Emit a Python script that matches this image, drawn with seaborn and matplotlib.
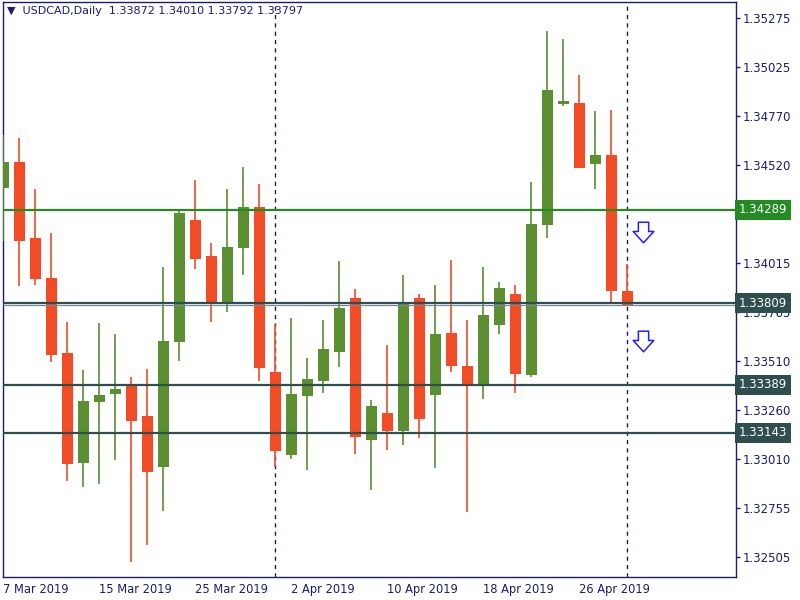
import numpy as np
import pandas as pd
import matplotlib
matplotlib.use("Agg")
import matplotlib.pyplot as plt
import matplotlib.transforms as mtransforms
from matplotlib.path import Path
import seaborn as sns

# daily bars, 7 Mar 2019 .. 1 May 2019
dates = pd.bdate_range("2019-03-07", "2019-05-01")
opens = [1.34402, 1.34534, 1.34144, 1.33938, 1.33552, 1.32989, 1.33302, 1.33342, 1.33388, 1.33229,
         1.32968, 1.33611, 1.34236, 1.34051, 1.33816, 1.34094, 1.34303, 1.33455, 1.33030, 1.33333,
         1.33410, 1.33559, 1.33835, 1.33107, 1.33244, 1.33153, 1.33835, 1.33338, 1.33655, 1.33486,
         1.33395, 1.33696, 1.33856, 1.33441, 1.34212, 1.34834, 1.34837, 1.34525, 1.34570, 1.33872]
highs = [1.34673, 1.34658, 1.34395, 1.34169, 1.33712, 1.33465, 1.33707, 1.33650, 1.33429, 1.33470,
         1.33994, 1.34291, 1.34442, 1.34118, 1.34395, 1.34508, 1.34421, 1.33702, 1.33732, 1.33527,
         1.33722, 1.34025, 1.33881, 1.33311, 1.33594, 1.33953, 1.33856, 1.33902, 1.34030, 1.33722,
         1.33994, 1.33918, 1.33902, 1.34431, 1.35208, 1.35166, 1.34981, 1.34796, 1.34801, 1.34010]
lows = [1.34130, 1.33898, 1.33904, 1.33508, 1.32896, 1.32865, 1.32881, 1.33004, 1.32480, 1.32567,
        1.32742, 1.33513, 1.33986, 1.33713, 1.33765, 1.33955, 1.33410, 1.32968, 1.33009, 1.32953,
        1.33348, 1.33482, 1.33035, 1.32850, 1.33055, 1.33081, 1.33117, 1.32963, 1.33456, 1.32737,
        1.33318, 1.33652, 1.33348, 1.33429, 1.34145, 1.34824, 1.34505, 1.34397, 1.33811, 1.33792]
closes = [1.34534, 1.34130, 1.33934, 1.33544, 1.32983, 1.33306, 1.33337, 1.33367, 1.33204, 1.32942,
          1.33614, 1.34272, 1.34037, 1.33816, 1.34097, 1.34303, 1.33477, 1.33050, 1.33342, 1.33419,
          1.33573, 1.33784, 1.33122, 1.33280, 1.33153, 1.33815, 1.33215, 1.33650, 1.33487, 1.33395,
          1.33748, 1.33887, 1.33446, 1.34215, 1.34904, 1.34848, 1.34505, 1.34570, 1.33873, 1.33797]

# horizontal levels drawn on the chart
green_level = 1.34289
dark_levels = [1.33809, 1.33389, 1.33143]
bid_price = 1.33797
arrow_prices = [1.34174, 1.33614]

price_ticks = [1.35275, 1.35025, 1.34770, 1.34520, 1.34270, 1.34015,
               1.33765, 1.33510, 1.33260, 1.33010, 1.32755, 1.32505]

df = pd.DataFrame({"date": dates, "open": opens, "high": highs,
                   "low": lows, "close": closes})
df["idx"] = np.arange(len(df))
df["up"] = df["close"] >= df["open"]

UP = "#5b8f32"
DOWN = "#f24c27"
NAVY = "#1b1b72"
GREEN_LINE = "#228b22"
DARK_LINE = "#2f4f4f"

sns.set_style("white")
plt.rcParams["font.family"] = ["DejaVu Sans"]

fig = plt.figure(figsize=(8, 6), dpi=100)
ax = fig.add_axes([3 / 800, 23 / 600, 733 / 800, 575 / 600])

# wicks
colors = np.where(df["up"], UP, DOWN)
ax.vlines(df["idx"], df["low"], df["high"], colors=colors, lw=1.2, zorder=3)
# bodies
body_lo = np.minimum(df["open"], df["close"])
body_h = np.abs(df["close"] - df["open"])
body_h = np.maximum(body_h, 0.00002)
ax.bar(df["idx"], body_h, bottom=body_lo, width=0.69, color=colors, zorder=4, linewidth=0)

# levels
ax.axhline(green_level, color=GREEN_LINE, lw=1.6, zorder=5)
for lv in dark_levels:
    ax.axhline(lv, color=DARK_LINE, lw=1.6, zorder=5)
ax.axhline(bid_price, color="#778899", lw=0.9, zorder=5)

# month separators
month_start = df.index[df["date"].dt.month.diff().fillna(0) != 0]
for i in month_start:
    ax.axvline(df.loc[i, "idx"], color=NAVY, lw=1.0, ls=(0, (3, 3)), zorder=2)

# down arrows (hollow)
arrow = Path([(-0.5, 1), (0.5, 1), (0.5, 0.1), (1, 0.1), (0, -1), (-1, 0.1), (-0.5, 0.1), (-0.5, 1)],
             closed=True)
ax.scatter([len(df)] * len(arrow_prices), arrow_prices, marker=arrow, s=220,
           facecolor="white", edgecolor="#2020ff", linewidth=1.1, zorder=6)

ax.set_xlim(-0.02, 45.8)
ax.set_ylim(1.32401, 1.35357)

# axes styling
for sp in ax.spines.values():
    sp.set_color(NAVY)
    sp.set_linewidth(1.0)

ax.yaxis.tick_right()
ax.set_yticks(price_ticks)
ax.set_yticklabels([f"{v:.5f}" for v in price_ticks])
ax.tick_params(axis="y", direction="out", length=3, width=1, color=NAVY,
               labelcolor=NAVY, labelsize=8.5, pad=1.5)

xt = df["idx"].values[::6]
ax.set_xticks(xt)
ax.set_xticklabels([f"{d.day} {d:%b %Y}" for d in df["date"].iloc[::6]], ha="left")
ax.tick_params(axis="x", direction="out", length=3, width=1, color=NAVY,
               labelcolor=NAVY, labelsize=8.3, pad=1)
ax.set_xticks(df.loc[month_start, "idx"].values, minor=True)
ax.tick_params(axis="x", which="minor", direction="in", length=4, width=1, color=NAVY)
ax.grid(False)

# price labels for the levels
trans = mtransforms.blended_transform_factory(ax.transAxes, ax.transData)
for lv, fc in [(green_level, GREEN_LINE)] + [(lv, DARK_LINE) for lv in dark_levels]:
    ax.text(1.004, lv, f"{lv:.5f}", transform=trans, ha="left", va="center",
            color="white", fontsize=8.5, zorder=10, clip_on=False,
            bbox=dict(boxstyle="square,pad=0.3", fc=fc, ec="none"))

ax.text(0.005, 0.993, "\u25bc  USDCAD,Daily  1.33872 1.34010 1.33792 1.33797",
        transform=ax.transAxes, ha="left", va="top", color=NAVY, fontsize=8)

fig.savefig("out.png", dpi=100)
